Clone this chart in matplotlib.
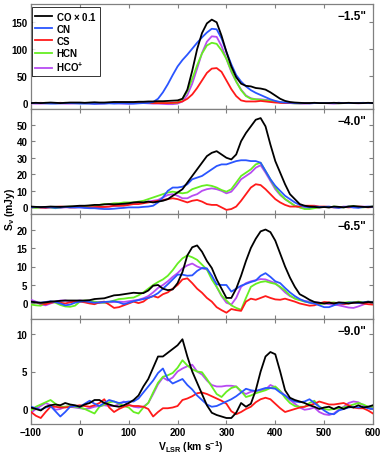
import numpy as np
import matplotlib
matplotlib.use("Agg")
import matplotlib.pyplot as plt

# velocity grid (km/s)
velocity = np.arange(-100, 601, 10)

# ---------------- panel 1 : -1.5" ----------------
co_1 = [0,0.5,0,0.5,1,0.5,0,0.5,1,1, 1,0.5,1,1.5,1,1,1.5,2,2,2,
        2,2,2.5,2.5,3,3,3.5,3.5,4,4.5,
        5,8,25,60,100,130,148,155,150,125,
        95,68,48,36,32,31,28,27,25,20,
        14,8,4,2,1,0.5,0,0,0.5,0,
        0,0,0.5,0,0,0.5,0,0,0,0.5,0]
cn_1 = [0,0,0,-0.5,-1,-1,-0.5,0,0,-0.5, -1,-1,-1,-1.5,-1,-1,-0.5,-1,-0.5,-0.5,
        -1,-1,-0.5,0,0,2,8,20,35,52,
        68,80,90,101,112,122,131,138,137,120,
        95,72,52,40,31,24,19,15,11,7,
        4,2,1,0.5,0,0,0,-0.5,0,0,
        0,0,0,0.5,0,0,0,0,0.5,0,0]
cs_1 = [0,0,0.5,0,0,0,0.5,0,0,0, 0,0,0,0,0,0,0.5,0,0,0,
        0,0,0,0,0,0,0,0,0,0.5,
        1,3,8,16,28,42,56,64,65,58,
        42,26,13,5,3,3,3,4,3,2,
        1,0.5,0,0,0,0,0,0,0,0,
        0,0,0,0.5,0,0,0,0,0,0,0]
hcn_1 = [0,0,0,0.5,0,0,0,0.5,0,0, 0,0,0.5,0,0,0,0,0.5,0,0,
         0,0,0,0.5,0,0,0,0,0,0,
         1,8,22,45,70,92,107,112,110,98,
         82,60,40,24,13,8,7,6,5,4,
         3,1.5,0.5,0,-0.5,-0.5,0,0,0,0,
         0,0,0,-0.5,0,0,0,0,0,0,0]
hco_1 = [-0.5,-1,-1,-0.5,0,0,-0.5,-1,-1,-0.5, 0,0,-0.5,-1,-1,-0.5,0,0,-0.5,-1,
         -1,-0.5,0,0,-0.5,-1,-1,-1.5,-2,-2,
         -1,3,15,36,64,93,114,124,123,106,
         82,58,40,25,14,9,7,7,6,5,
         3,1,0,0,-0.5,-1,-1,-0.5,0,0,
         0,-0.5,-1,-0.5,0,0,0,-0.5,0,0,0]

# ---------------- panel 2 : -4.0" ----------------
co_2 = [0.5,0.3,0.2,0.3,0.5,0.4,0.3,0.5,0.6,0.8,
        1,1,1.2,1.5,1.5,1.8,2,1.8,2,2.2,
        2.5,3,3.2,3,3.5,3,3.5,4,5,7,
        9,11,15,19,23,27,31,33,34,32,
        30,29,32,40,45,49,53,54,49,38,
        28,21,14,8,5,2,1,0.5,0.3,0,
        0.2,0,0.5,0.3,0,0.5,0.8,0.5,0.3,0.2,0.5]
cn_2 = [0,0.3,0.2,0,0,-0.3,0,0.3,0,0,
        0,-0.3,-0.5,-0.5,-0.8,-1,-1,-0.8,-0.5,-0.3,
        0,0,0,0.3,0.5,1,3,6,10,12,
        12,12.5,14,17,18,19,21,23,25,26,
        26,27,28,28.5,28.5,28,28,27,22,17,
        13,10,7,5,3,1.5,0.5,0,0.5,0.3,
        0.3,0.5,0,-0.3,0.2,0.5,0,-0.3,0.2,0.5,0.3]
cs_2 = [0,0.3,0,-0.3,0,0.3,0.5,0.3,0,0,
        0.3,0,0,0.2,0.3,0.3,0.5,1,1,1,
        1.5,2,2,2.5,3,3.5,4,4.5,5,5.5,
        5,4,3,4,4.5,3.5,2,1.5,1.5,0,
        -1.5,-1,0.5,4,8,12,14,13.5,11,8,
        5,3,1.5,0.5,0.5,0.5,1,1,1,0.5,
        0.5,0.3,0,0,0.3,0,0.2,0.5,0.3,0,0.3]
hcn_2 = [0,-0.3,0,0.3,0,-0.5,0,0.3,0.5,0.3,
         0.5,0.5,1,1,1.5,2,2,2.5,2.5,3,
         3,3,3.5,4,5,6,7,8,9,9.5,
         9,8.5,9,11,12,13,13.5,13,12,10.5,
         9.5,11,15,19,21,23,26,27,22,17,
         12,8,5,3,1,0,-1,-1,-0.5,0,
         0.3,0,0.5,0.3,0,0.5,0.8,0.3,0,0.3,0.5]
hco_2 = [0,0,-0.3,0,0.3,0,-0.3,0,0,0,
         0,0,0,0,0,0.2,0.5,0.8,1,1.5,
         2,2,2.5,3,3.5,4,4.5,6,7.5,8,
         7,5.5,5.5,7,8,10,11,11.5,11,10,
         8.5,9.5,13,17,19,21,24,25.5,21,16,
         11,7.5,5,3,1,0,-0.5,-0.5,0,0,
         0.3,0,0.2,0,0.5,0.3,0,0.3,0.5,0.3,0.5]

# ---------------- panel 3 : -6.5" ----------------
co_3 = [0.5,0.3,0.2,0.3,0.5,0.6,0.7,0.8,0.8,0.8,
        0.8,0.8,0.9,1.2,1.3,1.4,1.8,2.2,2.3,2.5,
        2.7,2.9,2.8,2.8,3.5,4.8,5,4,3.6,3.8,
        5.5,8.5,13,15.2,15.7,14,11.5,9.6,6.5,4,
        1.5,1.5,4,7.5,11.5,15,17.5,19.5,20,19.3,
        17,13.5,10,7,4.5,2.5,1.8,1,0.4,0.2,
        0,0.2,0,0.3,0.2,0,0.2,0.3,0.2,0.4,0.3]
cn_3 = [0.5,0.3,0.2,0.4,0.6,0.4,0,-0.5,-0.3,0.2,
        0.5,0.6,0.4,0.2,0.3,0.4,0.5,0.6,0.3,-0.2,
        0.2,0.6,0.9,1.2,1.5,2,2.8,4,5.2,6.5,
        7.8,7.8,7.5,7.6,8.8,9.6,9.5,7.5,5.2,5,
        5,3.2,4,4.8,5.3,5.8,6.2,7.5,8.2,7.2,
        6,5.5,4.2,3,2,1.2,0.6,0.2,0,-0.5,
        -1,-1,-0.5,0,0,0.2,0.3,0.1,0.3,0.5,0.3]
cs_3 = [0.5,0.3,0,-0.2,0.2,0.4,0.2,0,0.3,0.5,
        0.5,0.3,0,-0.2,0.3,0.5,-0.3,-1.2,-1,-0.5,
        0,0.5,0.1,0.5,1.5,2,1.6,2.5,3,4,
        5,6.5,6.8,5.5,4,2.9,1.5,0.5,-1,-1.8,
        -2.5,-1.5,-1.8,-2,0.5,1.3,1,1.5,2,1.5,
        1.1,1,1.3,0.9,0.5,0,-0.3,-0.6,-0.5,0,
        0.4,0.3,0,0,-0.2,0,0.2,0.2,0,-0.2,-0.3]
hcn_3 = [-0.3,-0.5,-0.6,0.2,0.5,0.2,-0.4,-0.8,-0.9,-0.6,
         0.5,0.8,0.7,0.5,0.3,0.2,0.4,0.8,1.2,1.3,
         1.5,1.6,2.2,3,4,5,5.8,6.5,7.5,9,
         10.8,12.2,13,12.5,11.8,10.5,9.2,6.5,4.5,2.2,
         0.8,-0.5,-1.2,-1.7,1.5,4.5,5.3,5.8,6,5.6,
         5.3,4.5,3.5,2.2,1.3,0.9,0.5,0.3,0,-0.2,
         0,0.2,0.3,0,0.2,0.4,0.3,0.5,0.3,0.5,0.4]
hco_3 = [1,0.5,-0.3,-0.5,0,0.5,0.8,0.8,0.6,0.6,
         0.8,0.6,0.4,0.2,0.1,0.2,0.3,0.4,0.5,0.4,
         0.6,0.8,1,1.4,2,3,4.2,5,6,7.2,
         8.2,9.5,10.3,10.8,10,9.5,9.2,7.5,4.5,2,
         0.2,-0.3,1.5,4.5,5.5,6,6.3,6.6,6.5,6,
         5.5,4.3,3,2,1.4,1,0.7,0.5,0.3,0.2,
         0,-0.2,-0.3,-0.5,-0.8,-1.1,-1.2,-0.8,-0.3,0.2,0.5]

# ---------------- panel 4 : -9.0" ----------------
co_4 = [0.2,0,-0.2,0.3,0.5,0.6,0.5,0.8,0.6,0.5,
        0.3,0.6,0.8,1.2,1.2,0.8,0.6,0.4,0.3,0.5,
        0.8,1.2,1.8,3,4,5.5,7,7,7.5,8,
        8.5,9.3,7,5,3.5,2,0.5,-0.5,-0.8,-1,
        -1.2,-1.2,-0.5,0.8,0.3,0.7,2.5,5,7,7.6,
        7.3,5,2.5,1.5,1.2,1,0.8,0.5,0.3,0,
        0.2,0.3,0,0.3,0,0.3,0.2,0.5,0.2,0.3,0.5]
cn_4 = [0.3,0.1,-0.1,0.2,0.4,-0.3,-1,-0.4,0.3,0.4,
        0.3,0.7,1.1,0.7,0.4,0.8,1.2,1,0.8,0.9,
        1,1,1.4,2.2,3,3.8,4.8,5.4,4,3.4,
        3.7,4,3.2,2.6,1.8,1.2,0.6,0.3,0.4,0.7,
        1,1.3,1.7,2.2,2.7,2.5,2.4,2.6,2.8,2.8,
        2.7,2.2,1.8,1.3,1,0.9,1,1.3,0.8,0.3,
        -0.2,-0.6,-0.7,-0.2,0,0.2,0.3,0.2,0.3,0.1,0]
cs_4 = [-0.4,-0.9,-1.2,-0.4,0.3,0.3,0.2,0.2,0.3,0.4,
        0.5,0.4,0.3,0.5,0.8,1.3,0.2,-0.4,0,0.3,
        0.5,0.4,0.4,0.3,0,-1,-0.4,0.1,0.1,0.2,
        0.4,1.2,1.4,1.7,2.1,2.2,2,1.7,1.4,1.1,
        0.7,-0.3,-0.7,-0.4,0,0.3,0.9,1.3,1.5,1.3,
        0.7,0.1,-0.4,-0.2,0,0.2,0.3,0.5,0.7,1,
        0.8,0.6,0.6,0.7,0.8,0.5,0.2,0.1,0.1,-0.2,-0.6]
hcn_4 = [-0.2,0.3,0.6,0.9,1.2,0.7,0.3,0.3,0.4,0.3,
         0.2,0,-0.3,-0.6,0.3,0.6,0.9,1,0.7,0.4,
         0.2,-0.4,-0.6,0.2,0.8,2.2,3.5,4.3,4.5,4.8,
         5.5,6.5,5.8,5.3,5,4.9,4,3,2,1.6,
         2.3,2.8,3,2.4,1.6,1.8,2.1,2.3,2.5,2.8,
         3,2.4,1.5,0.8,0.4,0.3,0.3,0.8,1.1,0.3,
         0,-0.1,0,0.1,0.2,0.4,0.6,0.8,0.6,0.3,0.3]
hco_4 = [-0.5,0,0.4,0.8,0.5,-0.1,0,0.3,0.3,0.2,
         0.1,0,0.1,0.3,0.4,0.5,0.4,0.4,0.6,1,
         0.6,0.3,0.2,0.3,0.8,2,3.3,4.2,3.8,4.2,
         5,5.4,5.7,5.9,5,4.6,3.8,3.2,3,3,
         3.1,3.1,3,2.3,2,2.3,2.4,2.5,2.6,3.2,
         2.9,2.4,1.8,1.2,0.7,0.2,-0.1,0,0.2,-0.4,
         -0.7,-0.8,-0.6,-0.1,0.3,0.8,1,0.9,0.5,0.3,0.2]

panel_labels = ['\u22121.5"', '\u22124.0"', '\u22126.5"', '\u22129.0"']
species = ['CO $\\times$ 0.1', 'CN', 'CS', 'HCN', 'HCO$^{+}$']
colors = ['#000000', '#2a55ff', '#ff1a1a', '#66ee22', '#b84cf2']
panels = [
    [co_1, cn_1, cs_1, hcn_1, hco_1],
    [co_2, cn_2, cs_2, hcn_2, hco_2],
    [co_3, cn_3, cs_3, hcn_3, hco_3],
    [co_4, cn_4, cs_4, hcn_4, hco_4],
]
ylims = [(-11, 184), (-4, 59.5), (-4.2, 24.2), (-2, 12)]
yticks = [[0, 50, 100, 150], [0, 10, 20, 30, 40, 50], [0, 5, 10, 15, 20], [0, 5, 10]]
xticks = [-100, 0, 100, 200, 300, 400, 500, 600]

plt.rcParams['font.family'] = ['Liberation Sans', 'DejaVu Sans']
plt.rcParams['font.weight'] = 'bold'
plt.rcParams['mathtext.default'] = 'regular'

W, H = 382, 456
fig = plt.figure(figsize=(W / 100, H / 100), dpi=100)
left_px, right_px = 31, 373
top0, ph = 5, 105
spine_col = '#808080'

axes = []
for i in range(4):
    top = top0 + i * ph
    ax = fig.add_axes([left_px / W, 1 - (top + ph) / H, (right_px - left_px) / W, ph / H])
    axes.append(ax)
    for j, (series, col) in enumerate(zip(panels[i], colors)):
        ax.plot(velocity, series, color=col, lw=1.3, label=species[j], zorder=5 - j * 0.1)
    ax.set_xlim(-100, 600)
    ax.set_ylim(*ylims[i])
    ax.set_yticks(yticks[i])
    ax.set_xticks(xticks)
    ax.tick_params(direction='in', top=True, right=True, length=3, width=0.8,
                   color=spine_col, labelsize=7, pad=2.5)
    for s in ax.spines.values():
        s.set_color(spine_col)
        s.set_linewidth(0.9)
    if i < 3:
        ax.set_xticklabels([])
    else:
        ax.set_xticklabels([f'\u2212{abs(t)}' if t < 0 else str(t) for t in xticks])
    ax.text(0.98, 0.885, panel_labels[i], transform=ax.transAxes, ha='right', va='center',
            fontsize=8.5, fontweight='bold')

leg = axes[0].legend(loc='upper left', bbox_to_anchor=(0.003, 0.975), fontsize=7,
                     frameon=True, fancybox=False, handlelength=1.8, handletextpad=0.4,
                     labelspacing=0.22, borderpad=0.3, borderaxespad=0.0)
leg.get_frame().set_edgecolor('black')
leg.get_frame().set_linewidth(0.7)

fig.text(0.027, 0.54, 'S$_{\\nu}$ (mJy)', rotation=90, ha='center', va='center',
         fontsize=7.5, fontweight='bold')
fig.text(0.50, 0.02, 'V$_{LSR}$ (km s$^{-1}$)', ha='center', va='center',
         fontsize=7.5, fontweight='bold')

fig.savefig('out.png', dpi=100)
